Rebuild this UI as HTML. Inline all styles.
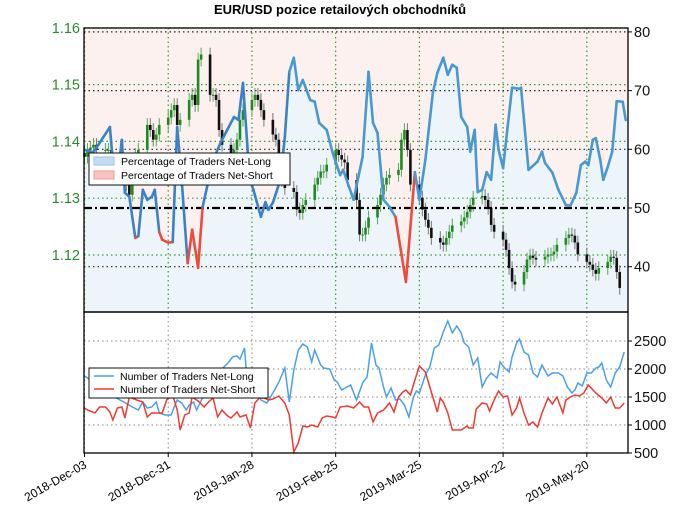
<!DOCTYPE html>
<html><head><meta charset="utf-8"><style>
body{margin:0;background:#fff;}
svg{display:block;font-family:"Liberation Sans","DejaVu Sans",sans-serif;}
</style></head><body>
<svg id="c" width="680" height="519" viewBox="0 0 680 519">
<text x="340" y="14" text-anchor="middle" font-size="13" font-weight="bold">EUR/USD pozice retailových obchodníků</text>
<g id="top"></g>
<g id="bot"></g>
</svg>
<script>
// ---------- data ----------
const dateTicks = ["2018-Dec-03","2018-Dec-31","2019-Jan-28","2019-Feb-25","2019-Mar-25","2019-Apr-22","2019-May-20"];
const dateTickDays = [0,28,56,84,112,140,168];
const priceTicks = [1.12,1.13,1.14,1.15,1.16];
const pctTicks = [40,50,60,70,80];
const countTicks = [500,1000,1500,2000,2500];
const closes = [1.1373,1.1385,1.1389,1.1394,1.1385, 1.1385,1.1385,1.1368,1.1350,1.1341,
 1.1324,1.1306,1.1359,1.1376,1.1385, 1.1429,1.1420,1.1403,1.1412,1.1429,
 1.1442,1.1455,1.1464,1.1429,1.1438, 1.1473,1.1482,1.1464,1.1544,1.1553,
 1.1482,1.1482,1.1473,1.1420,1.1394, 1.1376,1.1385,1.1403,1.1438,1.1455,
 1.1473,1.1482,1.1473,1.1455,1.1438, 1.1412,1.1403,1.1359,1.1332,1.1318,
 1.1311,1.1280,1.1274,1.1288,1.1297, 1.1324,1.1336,1.1347,1.1347,1.1359,
 1.1385,1.1376,1.1368,1.1363,1.1332, 1.1297,1.1236,1.1236,1.1248,1.1266,
 1.1288,1.1306,1.1324,1.1336,1.1341, 1.1350,1.1403,1.1420,1.1385,1.1324,
 1.1301,1.1280,1.1262,1.1248,1.1230, 1.1222,1.1218,1.1230,1.1241,1.1252,
 1.1259,1.1266,1.1276,1.1288,1.1301, 1.1304,1.1297,1.1283,1.1253,1.1241,
 1.1227,1.1209,1.1177,1.1153,1.1148, 1.1170,1.1192,1.1199,1.1195,1.1192,
 1.1197,1.1201,1.1201,1.1206,1.1218, 1.1230,1.1236,1.1234,1.1222,1.1201,
 1.1188,1.1183,1.1174,1.1167,1.1177, 1.1188,1.1197,1.1195,1.1170,1.1142];
const pctDays = [0,3,8.5,9.5,11,12.5,13.5,15,17,18,19.5,21,22.5,23.5,25,26,28,29.5,31,32.5,34.5,36,38,39.5,41,43,45.5,47.5,50,51.5,53,54.5,55,56.5,59,60.5,61.5,63,65.5,67,68.5,70,71.5,73,75.5,77,78.5,81,83,85.5,86.5,90,93,95,96.5,98,100,102,104,107.5,110.5,112,114,116.5,118,120,121.5,123,124.5,126,128,129,130.5,131.5,133,134.5,136,137.5,138.5,140,141.5,143,145.5,146,148.5,151.5,153,154,156.5,158.5,161,162.5,164.5,166,167.5,168.5,170,171,172.5,173.5,175,176.5,178,180,181];
const pctLong = [59.9,59.5,63.8,57.7,55.3,61.6,52.6,51.9,44.9,45.2,53.1,51.4,51.9,53.1,45.9,44.6,44.1,44.2,63.8,54.8,40.6,46.3,39.8,50.2,53.6,58.2,61.1,63.1,65.5,65.0,71.3,60.4,55.3,53.1,48.5,51.0,49.7,50.9,54.8,62.1,73.2,75.6,70.1,71.8,68.4,68.1,64.5,63.3,59.4,55.6,56.5,51.4,58.7,73.2,64.5,62.8,51.4,50.2,48.5,37.4,56.1,51.4,58.2,69.6,73.0,75.6,72.7,74.4,73.9,65.5,63.8,59.6,63.3,52.7,53.1,56.1,54.8,64.2,59.9,56.8,63.8,70.5,70.3,70.5,56.5,57.9,59.6,57.7,56.0,53.1,50.5,50.4,52.6,57.3,57.9,57.3,61.6,61.9,58.2,54.8,57.0,59.6,68.2,68.1,65.0];
const cntDays = [0,2,5,10,13.5,16,18,19.5,21,22.5,24,25,27,29,30,31,32.5,34,35,36.5,37.5,41,44,48,49.5,51,52,53.5,54,59,61,63,65,67,68.5,70,71.5,73,74.5,76,77,79,80,82,83.5,84.5,86,89,91,93,94.5,96,97.5,98.5,100,101,102.5,104,105.5,107,108.5,110,111,112,114,115.5,117,118.5,120,121.5,123,124.5,126,127,128.5,130,131.5,133,134.5,136,138,139,140.5,142,143,144.5,145.5,147,148.5,150,151.5,153,155,156.5,158.5,160,161.5,163,164,165,166.5,168,169.5,171,172,173,174.5,176,177.5,179,180.5];
const netLong = [1875,1804,1650,1500,1400,1321,1268,1411,1304,1321,1411,1214,1179,1179,1321,1446,1393,1268,1357,1411,1268,1650,1900,2107,2214,2232,2179,2375,2036,1446,1393,1571,1768,2018,1411,1982,2339,2446,2393,2125,2339,2071,2018,2000,1804,1768,1625,1714,1446,1750,1857,2464,2071,2018,1679,1500,1661,1446,1464,1357,1143,1500,1607,1571,1893,2036,2375,2429,2661,2857,2643,2768,2643,2464,2393,2071,2196,1679,1839,1929,1839,2125,2018,1946,2214,2464,2536,2304,2250,1929,1857,2071,1875,1929,1929,1875,1679,1571,1625,1750,1696,1929,1929,2018,2036,2107,1804,1679,1929,2036,2304,2393,2321];
const sDays = [0,1,3.5,5,7,8.5,9.5,11,12.5,13.5,15,17.5,19.5,21,22.5,24,26,27.5,29.5,31,32,33.5,35,36,38,40,41.5,43,44.5,46,47.5,49,51,52,54,55.5,57,58.5,60,61.5,63,65,67,68.5,70,71.5,73,74.5,76,78,79.5,81,83,84,85.5,88,90,92,93.5,95,96.5,98,100,102,103.5,105,106.5,107.5,109,110.5,112,114,116,118,119,120,121.5,123,124.5,126,128,128.5,130,131,133,134.5,135.5,137,138.5,140,141.5,143,144.5,145.5,147,148.5,150,151.5,153,155,156.5,158,160,161,162.5,164,165.5,167,168.5,171,173,174.5,176,177.5,179,180.5];
const netShort = [1300,1268,1214,1321,1321,1232,1089,1304,1321,1125,1500,1446,1411,1143,1214,1214,1214,1446,1536,1268,911,1179,1214,1500,1429,1321,1411,1482,1143,1268,1179,1125,1232,1143,1179,946,1393,1482,1482,1446,1464,1518,1393,1179,518,679,982,964,1000,964,1125,1161,1143,1125,1321,1339,1304,1411,1321,1321,1054,1214,1268,1393,1232,1500,1589,1625,1536,1804,2054,1946,1589,1232,1482,1411,1214,911,911,911,982,946,946,1286,1393,1375,1250,1446,1607,1500,1518,1179,1304,1482,1214,1000,1054,964,1214,1482,1375,1500,1214,1446,1500,1536,1518,1571,1714,1571,1482,1393,1500,1304,1304,1393,1446,1339,1054,1107,1268];

// ---------- scales ----------
const X0=84, X1=628, PX=2.99;
const xd = d => 84.5 + d*PX;
const TY0=28, TY1=312, BY0=312, BY1=453;
const yPrice = p => 255 - (p-1.12)*5680;
const yPct = v => 208 - (v-50)*5.87;
const yCnt = v => 425 - (v-1000)*0.056;
const NS='http://www.w3.org/2000/svg';
function el(tag, attrs, parent){const e=document.createElementNS(NS,tag);for(const k in attrs)e.setAttribute(k,attrs[k]);parent.appendChild(e);return e;}
const topG=document.getElementById('top'), botG=document.getElementById('bot');

const defs=el('defs',{},document.getElementById('c'));
const cp=el('clipPath',{id:'tc'},defs); el('rect',{x:X0,y:TY0,width:X1-X0,height:TY1-TY0},cp);

let pts=pctDays.map((d,i)=>xd(d).toFixed(1)+','+yPct(pctLong[i]).toFixed(1));
let bg=el('rect',{x:X0,y:TY0,width:X1-X0,height:TY1-TY0,fill:'#fdf1f0'},topG);


let area=el('polygon',{points:xd(pctDays[0])+','+TY1+' '+pts.join(' ')+' '+X1+','+yPct(pctLong[pctLong.length-1])+' '+X1+','+TY1+' '+X0+','+TY1+' '+X0+','+yPct(pctLong[0]),fill:'#edf4fa','clip-path':'url(#tc)'},topG);



priceTicks.forEach(p=>{const l=el('line',{x1:X0,x2:X1,y1:yPrice(p),y2:yPrice(p),stroke:'#3a9a3a','stroke-width':1.2,'stroke-dasharray':'1.5,3'},topG);

});
pctTicks.forEach(v=>{if(v===50)return;const l=el('line',{x1:X0,x2:X1,y1:yPct(v),y2:yPct(v),stroke:'#222','stroke-width':1.2,'stroke-dasharray':'1.5,3'},topG);

});
dateTickDays.forEach(d=>{const l=el('line',{x1:xd(d),x2:xd(d),y1:TY0,y2:TY1,stroke:'#3a9a3a','stroke-width':1.2,'stroke-dasharray':'1.5,3'},topG);

});

closes.forEach((c,i)=>{
  const d=Math.floor(i/5)*7+(i%5);
  const o=i?closes[i-1]:1.1380;
  const x=xd(d);
  const up=c>=o;
  const hi=Math.max(o,c)+0.0012, lo=Math.min(o,c)-0.0012;
  const w=el('line',{x1:x,x2:x,y1:yPrice(hi),y2:yPrice(lo),stroke:up?'#5aa85a':'#777','stroke-width':1},topG);
  
  
  const b=el('rect',{x:x-1.3,y:Math.min(yPrice(o),yPrice(c)),width:2.6,height:Math.max(1,Math.abs(yPrice(o)-yPrice(c))),fill:up?'#1f8a1f':'#111'},topG);
  
  
});

let l50=el('line',{x1:X0,x2:X1,y1:yPct(50),y2:yPct(50),stroke:'#000','stroke-width':2.2,'stroke-dasharray':'8,3,2,3'},topG);



for(let i=0;i<pctLong.length-1;i++){
  const a=pctLong[i], b=pctLong[i+1];
  const col=(a<50&&b<50)||(a+b)/2<47?'#f04a3a':(i<40?'#3b82c4':'#4a98d0');
  const s=el('line',{x1:xd(pctDays[i]),y1:yPct(a),x2:xd(pctDays[i+1]),y2:yPct(b),stroke:col,'stroke-width':2.6,'stroke-linecap':'round'},topG);
  
  
}

el('rect',{x:X0,y:TY0,width:X1-X0,height:TY1-TY0,fill:'none',stroke:'#000','stroke-width':1.3},topG);
priceTicks.forEach(p=>{const t=el('text',{x:80,y:yPrice(p)+5,'text-anchor':'end','font-size':14.5,fill:'#2a8a2a'},topG);t.textContent=p.toFixed(2);

});
pctTicks.forEach(v=>{el('line',{x1:X1,x2:X1+4,y1:yPct(v),y2:yPct(v),stroke:'#000'},topG);const t=el('text',{x:634,y:yPct(v)+5,'font-size':14.5,fill:'#111'},topG);t.textContent=v;

});

const lg=el('g',{},topG);


el('rect',{x:89,y:153,width:201,height:32,fill:'#fff',stroke:'#111','stroke-width':1},lg);
el('rect',{x:94,y:157,width:20,height:8,fill:'#c6dcf3',stroke:'#9cc3ea'},lg);
el('rect',{x:94,y:171,width:20,height:8,fill:'#f8c4c2',stroke:'#f39a96'},lg);
let t1=el('text',{x:121,y:165,'font-size':10.5},lg);t1.textContent='Percentage of Traders Net-Long';
let t2=el('text',{x:121,y:179,'font-size':10.5},lg);t2.textContent='Percentage of Traders Net-Short';

countTicks.forEach(v=>{if(v===500)return;const l=el('line',{x1:X0,x2:X1,y1:yCnt(v),y2:yCnt(v),stroke:'#888','stroke-width':1,'stroke-dasharray':'1.5,3'},botG);

});
dateTickDays.forEach(d=>{const l=el('line',{x1:xd(d),x2:xd(d),y1:BY0,y2:BY1,stroke:'#888','stroke-width':1,'stroke-dasharray':'1.5,3'},botG);

});
let pl=el('polyline',{points:cntDays.map((d,i)=>xd(d).toFixed(1)+','+yCnt(netLong[i]).toFixed(1)).join(' '),fill:'none',stroke:'#4aa0f0','stroke-width':1.5},botG);


let ps=el('polyline',{points:sDays.map((d,i)=>xd(d).toFixed(1)+','+yCnt(netShort[i]).toFixed(1)).join(' '),fill:'none',stroke:'#f03a30','stroke-width':1.5},botG);


el('rect',{x:X0,y:BY0,width:X1-X0,height:BY1-BY0,fill:'none',stroke:'#000','stroke-width':1.3},botG);
countTicks.forEach(v=>{el('line',{x1:X1,x2:X1+4,y1:yCnt(v),y2:yCnt(v),stroke:'#000'},botG);const t=el('text',{x:634,y:yCnt(v)+5,'font-size':14.5,fill:'#111'},botG);t.textContent=v;

});
dateTicks.forEach((s,i)=>{const x=xd(dateTickDays[i]);el('line',{x1:x,x2:x,y1:BY1,y2:BY1+4,stroke:'#000'},botG);
const t=el('text',{x:x+3,y:BY1+14,'text-anchor':'end','font-size':12,transform:`rotate(-30 ${x+3} ${BY1+14})`},botG);t.textContent=s;

});

const lg2=el('g',{},botG);


el('rect',{x:89,y:368,width:179,height:30,fill:'#fff',stroke:'#111','stroke-width':1},lg2);
el('line',{x1:94,x2:114,y1:376,y2:376,stroke:'#4aa0f0','stroke-width':1.5},lg2);
el('line',{x1:94,x2:114,y1:389,y2:389,stroke:'#f03a30','stroke-width':1.5},lg2);
let t3=el('text',{x:120,y:380,'font-size':10.5},lg2);t3.textContent='Number of Traders Net-Long';
let t4=el('text',{x:120,y:393,'font-size':10.5},lg2);t4.textContent='Number of Traders Net-Short';
</script>
</body></html>
